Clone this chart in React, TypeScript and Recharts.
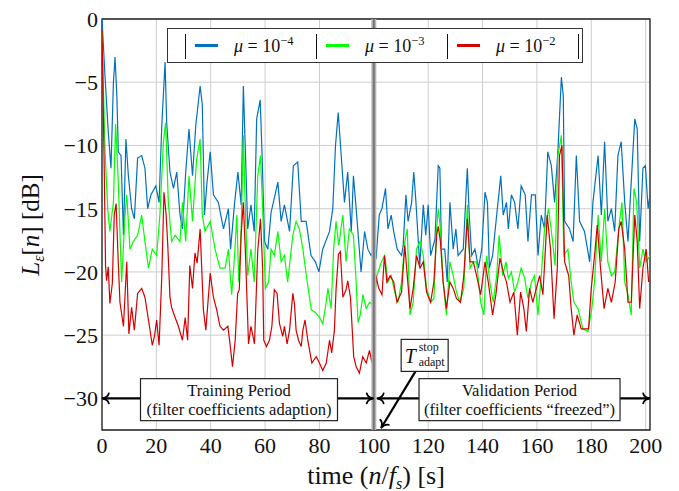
import {
  CartesianGrid,
  Legend,
  Line,
  LineChart,
  ReferenceArea,
  ReferenceDot,
  ReferenceLine,
  XAxis,
  YAxis,
} from "recharts";

// time axis in seconds, error level in dB
const xTicks = [0, 20, 40, 60, 80, 100, 120, 140, 160, 180, 200];
const yTicks = [-30, -25, -20, -15, -10, -5, 0];

// mu = 1e-4 (blue)
const mu4Points: [number, number][] = [
  [0, 0], [1.1, -4.5], [2.3, -8.9], [3.3, -11.8], [4.2, -5], [4.8, -3], [5.5, -6.3], [6, -10.5],
  [7, -10.8], [7.9, -17.1], [8.8, -9.5], [9.7, -12.4], [10.9, -15], [11.9, -15.8], [13.1, -11],
  [14.6, -10.8], [15.8, -11.8], [16.8, -15], [18, -13.9], [19.8, -13.2], [21, -14.5], [22, -8.4],
  [23.2, -3.4], [23.8, -8.2], [25, -12.1], [26.3, -13.4], [27.5, -12.1], [28.7, -15.5], [29.6, -16.6],
  [30.8, -12.1], [32, -8.7], [33.3, -12.4], [34.5, -8.4], [36.1, -5.3], [36.9, -6.8], [37.7, -15.5],
  [38.6, -13], [39.8, -10.5], [41, -13.9], [42.8, -14.5], [44.7, -16.6], [46.5, -15], [47.3, -18.2],
  [48.8, -14.5], [50, -12.1], [51.2, -14.7], [52, -5.3], [52.8, -10.8], [53.6, -16.6], [54.8, -14.7],
  [56, -16.8], [56.9, -7.9], [58.2, -6.4], [58.9, -10.8], [59.8, -17.6], [61, -18.2], [62.2, -15.3],
  [64.7, -12.9], [65.9, -16], [67.1, -14.7], [69, -16.8], [70.4, -11.6], [72, -11.3], [73.3, -16],
  [75.1, -16], [76.9, -18.7], [78.5, -19.2], [79.8, -20], [81.2, -18.2], [83.7, -16.8], [84.9, -15],
  [85.9, -10], [86.9, -7.4], [88, -10.8], [89.2, -14.5], [90.4, -12.1], [91.7, -16.8], [92.5, -12.4],
  [93.5, -15], [95.3, -20], [96.6, -16.8], [97.8, -18.2], [99, -18.7], [100.2, -18.2], [100.8, -19],
  [102, -15.5], [103, -15], [104.3, -13.4], [105.2, -16.6], [106.4, -15.5], [107.3, -16.8],
  [108.6, -18.2], [110.2, -18.7], [110.8, -17.9], [111.8, -13.9], [112.6, -16], [113.9, -14.5],
  [114.7, -12.1], [115.5, -14.5], [116.9, -19.5], [118.2, -14.7], [119.1, -17.1], [120, -14.7],
  [120.9, -18.7], [122.5, -17.4], [123.7, -11.6], [124.3, -11.8], [124.9, -18.2], [126.1, -18.2],
  [127, -20.8], [128, -14.5], [129.2, -18.2], [130.2, -16.6], [131, -18.7], [132.9, -18.2],
  [134.4, -11.8], [135.1, -15.5], [136, -18.7], [137.2, -18.2], [138.5, -19.7], [139.7, -18.2],
  [140.9, -13.7], [141.8, -14.5], [142.5, -19.7], [143.7, -18.7], [145.2, -15.5], [146.7, -12.4],
  [147.6, -15.5], [148.8, -14.5], [149.5, -16.6], [150.6, -13.9], [151.8, -14.5], [153, -16.6],
  [154.2, -13.2], [155.7, -13.9], [156.7, -17.6], [158, -13.9], [159.4, -13.9], [160.4, -18.7],
  [161.6, -15.5], [162.8, -16.6], [164, -10.5], [165.3, -11.6], [166.5, -14.5], [167.7, -10.5],
  [169, -4.6], [169.7, -6.1], [170.2, -16], [172, -16.6], [173.3, -17.6], [174.5, -10.8], [175.7, -16],
  [177.5, -16.8], [179.4, -19.2], [180.6, -14.5], [182.5, -10.8], [183.7, -15.5], [184.9, -9.7],
  [186.1, -16], [187.4, -15], [188.6, -16.8], [189.8, -10.8], [191, -9.7], [192.3, -14.5],
  [193.5, -17.6], [194.7, -12.9], [196, -7.9], [196.9, -8.7], [197.8, -17.6], [199, -11.8],
  [199.9, -11.6], [200.9, -15], [201.6, -13.9],
];

// mu = 1e-3 (green)
const mu3Points: [number, number][] = [
  [0, -1], [1.1, -10.3], [2.1, -15], [2.9, -16.8], [4.2, -14.5], [5, -8.3], [6, -12.9], [7.2, -20.8],
  [8.5, -15.5], [9.1, -13.9], [10.3, -18.2], [11.5, -17.6], [13.1, -17.1], [14.6, -15.5], [15.8, -17.6],
  [17.1, -19.7], [18.5, -18.2], [20.1, -18.7], [21.3, -15.5], [22.6, -9.7], [23.4, -8.2], [24.4, -14.5],
  [25.6, -17.6], [26.9, -17.1], [28.7, -17.6], [29.6, -14.5], [30.8, -17.6], [32, -12.4], [33.3, -16],
  [34.8, -11.1], [36.1, -9.5], [36.9, -15.5], [37.9, -16.8], [39.8, -16], [41.6, -18.2], [43.4, -19.7],
  [45.3, -19.7], [46.5, -18.2], [47.7, -21.8], [48.8, -18.6], [49.6, -15.5], [50.3, -20.8], [51.2, -16.6],
  [52, -9.2], [52.8, -15.5], [53.6, -20.3], [54.8, -18.2], [56, -20.8], [57.3, -12.4], [58.3, -10.8],
  [59.1, -15], [60.1, -21.3], [61.3, -20.8], [62.2, -18.2], [63.4, -18.7], [64.7, -16.8], [65.9, -19.2],
  [67.1, -18.7], [68.3, -20.8], [70.2, -17.1], [71.4, -16], [72.6, -16.6], [73.9, -18.2], [75.3, -20.5],
  [77, -23], [78.5, -23.2], [80, -23.6], [81.2, -24.1], [82.5, -22.4], [83.1, -21.3], [84.3, -22.9],
  [85.2, -18.2], [86.1, -16], [87.1, -17.9], [88.6, -15.5], [89.8, -19.2], [91, -16.6], [92.5, -17.1],
  [93.5, -20.8], [94.2, -24], [95, -23.4], [96, -21.8], [97.2, -22.9], [98.4, -22.4], [99.9, -22.6],
  [101.1, -20.3], [102.8, -19.2], [104, -18.7], [105.2, -20.8], [106.4, -20.3], [107.7, -21.6],
  [108.9, -22.4], [110.2, -20.8], [111.4, -17.6], [112.3, -16.6], [113.3, -23.4], [114.5, -22.4],
  [115.7, -18.2], [117, -17.6], [118.2, -18.7], [119.4, -21.3], [120.9, -22.4], [122.1, -22.1],
  [123.1, -16.6], [123.7, -15], [124.5, -16.6], [125.5, -20.8], [126.7, -23.4], [128, -19.2],
  [129.2, -20.3], [130.4, -21.6], [131.7, -22.4], [133.1, -21.3], [134.4, -14.7], [135.4, -19.7],
  [136.6, -19.2], [137.8, -19.2], [139.3, -22.4], [140.5, -23.4], [141.5, -18.7], [142.7, -20.8],
  [143.9, -22.4], [145.2, -20.3], [146.1, -17.1], [147.4, -20.3], [148.6, -19.2], [149.5, -20.5],
  [150.6, -20], [151.8, -21.6], [153, -20.8], [154.2, -19.7], [155.5, -20.5], [156.7, -22.1],
  [158, -20.8], [159.1, -20.3], [160.4, -23.4], [161.6, -20.3], [162.8, -16.6], [164.3, -15],
  [165.5, -17.1], [166.7, -19.5], [167.7, -10.8], [169, -9.2], [169.9, -18.7], [171.4, -18.2],
  [172.6, -20.8], [173.6, -22.4], [175.1, -22.9], [176.9, -24.5], [178.8, -24.7], [180.2, -22.9],
  [181.2, -20.8], [182.5, -15.5], [183.7, -19.2], [184.9, -15], [186.1, -19.2], [187.4, -20.3],
  [188.6, -20], [190.4, -16], [191.3, -14.5], [192.3, -20.8], [193.5, -21.8], [194.7, -23.4],
  [195.7, -13.4], [196.7, -14.5], [197.8, -19.7], [199, -18.2], [200.2, -19.2], [201.6, -18.7],
];

// mu = 1e-2 (red)
const mu2Points: [number, number][] = [
  [0, -0.8], [0.9, -12.9], [1.3, -19.5], [1.7, -20.7], [2.3, -19.6], [2.9, -22.5], [3.8, -20.9],
  [4.5, -15.5], [5.2, -14.6], [5.8, -18.2], [6.6, -22.4], [7.9, -24.3], [9.1, -19.2], [9.9, -24.9],
  [10.9, -22.8], [11.9, -24.6], [13.1, -21.7], [14.6, -21.3], [15.8, -22], [17.1, -23.8], [18.5, -25.8],
  [19.3, -25.1], [20.1, -23.8], [21, -25.8], [22, -20.3], [22.8, -13.7], [23.6, -15.5], [24.2, -17.9],
  [25, -22], [25.6, -22.8], [26.9, -23.6], [28.1, -24.3], [29.6, -25.4], [30.6, -23.6], [31.5, -25.4],
  [32.3, -19.5], [33.3, -21.3], [34.2, -18.5], [35, -19.3], [36.1, -16.6], [37.3, -23], [38.2, -24.6],
  [39.8, -20.1], [41, -22], [42.2, -23], [43.4, -24.3], [44.7, -24.6], [46.3, -24.3], [47.1, -25.7],
  [48, -27.5], [49, -25.4], [49.9, -21.7], [50.5, -21.4], [51.2, -17], [52, -14.5], [52.8, -18.7],
  [53.9, -25.7], [54.8, -24.3], [56.1, -25.7], [57.3, -18.3], [58.3, -15.8], [59.1, -19.7],
  [59.5, -25.4], [60.5, -25.9], [61.6, -25.4], [62.5, -24.3], [63.4, -21.4], [64.4, -21.7],
  [65.3, -24.1], [66.5, -25.1], [67.1, -24.3], [68.1, -25.7], [69, -24.6], [70.2, -21.7], [70.8, -22.5],
  [71.4, -24.6], [72.3, -25.4], [73.3, -25.9], [73.9, -24.6], [74.7, -23.8], [75.7, -25.4],
  [77.2, -27.2], [78.8, -26.7], [80, -27.2], [81.2, -27.8], [82.5, -27.2], [83.7, -25.4], [84.5, -26.4],
  [85.5, -24.6], [86.1, -21.4], [87, -18.6], [87.7, -18.4], [88.6, -22], [89.8, -21.4], [90.4, -20.7],
  [91.4, -22], [92.6, -26.7], [93.5, -27.5], [94.7, -28], [95.9, -26.7], [97.2, -27.2], [98.4, -26.2],
  [99.3, -27.2], [99.8, -25.9], [100.8, -20.3], [101.8, -21.3], [103, -21.8], [103.9, -18.7],
  [104.8, -20.8], [106, -20.3], [107.3, -20.8], [108.5, -22.4], [110.2, -21.6], [111.4, -17.9],
  [112.3, -20.3], [113.3, -22.9], [114.5, -21.3], [115.7, -18.7], [117, -19.7], [118.2, -19.2],
  [119.4, -21.6], [120.9, -22.4], [122.1, -20.8], [123.1, -17.1], [123.7, -16.4], [124.5, -17.6],
  [125.5, -20.8], [126.7, -22.9], [128, -20.8], [129.2, -21.3], [130.4, -22.1], [131.9, -22.4],
  [133.1, -20.3], [134.4, -15.8], [135.4, -19.2], [136.6, -19.2], [137.8, -20.3], [139.3, -21.8],
  [140.9, -19.2], [142.1, -20.8], [143.7, -23.4], [144.9, -21.8], [146.4, -18.9], [147.6, -20],
  [148.8, -20.8], [150.1, -22.4], [151.5, -21.6], [152.8, -25], [154, -21.6], [155.2, -22.9],
  [156.1, -24.7], [157.3, -21.3], [158.5, -22.4], [159.8, -21.3], [161, -20.3], [162.2, -21.8],
  [163.8, -15.5], [165, -18.2], [166.3, -23.7], [167.5, -19.7], [168.3, -10.8], [169.2, -10],
  [170.2, -19.2], [171.7, -20.3], [172.6, -22.9], [173.6, -25], [174.8, -23.4], [176.3, -24.5],
  [177.8, -24.5], [179, -24.5], [180, -21.3], [181.2, -18.7], [182.2, -16.3], [183.4, -19.7],
  [184.7, -22.9], [186.1, -21.3], [187.4, -22.4], [188.8, -20.8], [190.1, -16.6], [191, -16],
  [192.3, -18.2], [193.5, -22.4], [194.7, -22.4], [196, -15.5], [196.9, -17.6], [197.8, -22.9],
  [199, -19.7], [200.2, -18.2], [201.1, -20.8],
];

const series = [
  { key: "mu4", exponent: "−4", color: "#0072BD", points: mu4Points },
  { key: "mu3", exponent: "−3", color: "#00FF00", points: mu3Points },
  { key: "mu2", exponent: "−2", color: "#D40000", points: mu2Points },
];

const SERIF = "Liberation Serif, Times New Roman, DejaVu Serif, serif";
const X_MAX = 201.6;
const ADAPT_STOP = 100;

const toRows = (pts: [number, number][]) => pts.map(([t, v]) => ({ t, v }));
const fmtTick = (v: number) => (v < 0 ? `−${Math.abs(v)}` : String(v));

// LaTeX-ish "to" arrow tip, pointing along +x with tip at origin
const tipPath = "M -6 -5 C -5.4 -2.2 -1.8 -0.5 0.8 0 C -1.8 0.5 -5.4 2.2 -6 5";

function arrowShape(both: boolean) {
  return (p: any) => {
    const { x1, y1, x2, y2 } = p;
    const ang = (Math.atan2(y2 - y1, x2 - x1) * 180) / Math.PI;
    return (
      <g>
        <line x1={x1} y1={y1} x2={x2} y2={y2} stroke="#000" strokeWidth={2.2} />
        <path d={tipPath} transform={`translate(${x2},${y2}) rotate(${ang})`} fill="none" stroke="#000" strokeWidth={1.8} strokeLinecap="round" />
        {both && (
          <path d={tipPath} transform={`translate(${x1},${y1}) rotate(${ang + 180})`} fill="none" stroke="#000" strokeWidth={1.8} strokeLinecap="round" />
        )}
      </g>
    );
  };
}

function periodBox(line1: string, line2: string, w: number) {
  return (p: any) => (
    <g>
      <rect x={p.cx - w / 2} y={p.cy - 21} width={w} height={42} fill="#fff" stroke="#222" strokeWidth={1.2} />
      <text x={p.cx} y={p.cy - 4} textAnchor="middle" fontFamily={SERIF} fontSize={16.5} fill="#111">
        {line1}
      </text>
      <text x={p.cx} y={p.cy + 15} textAnchor="middle" fontFamily={SERIF} fontSize={16.5} fill="#111">
        {line2}
      </text>
    </g>
  );
}

const stopBox = (p: any) => (
  <g>
    <rect x={p.cx - 23.5} y={p.cy - 16} width={47} height={32} fill="#fff" stroke="#222" strokeWidth={1.2} />
    <text x={p.cx - 20} y={p.cy + 8} fontFamily={SERIF} fontSize={20} fontStyle="italic" fill="#111">T</text>
    <text x={p.cx - 6} y={p.cy - 4} fontFamily={SERIF} fontSize={12} fill="#111">stop</text>
    <text x={p.cx - 6} y={p.cy + 11} fontFamily={SERIF} fontSize={12} fill="#111">adapt</text>
  </g>
);

function LegendBox() {
  const bar = (left: number) => (
    <div style={{ position: "absolute", left, top: 5, width: 1.3, height: 25, background: "#111" }} />
  );
  return (
    <div
      style={{
        position: "relative",
        width: 416,
        height: 35,
        boxSizing: "border-box",
        border: "1.2px solid #333",
        background: "#fff",
        fontFamily: SERIF,
        fontSize: 18,
        color: "#111",
      }}
    >
      {series.map((s, i) => (
        <div key={s.key}>
          {bar(17 + 131 * i)}
          <div style={{ position: "absolute", left: 27 + 131 * i, top: 15, width: 23, height: 3, background: s.color }} />
          <div style={{ position: "absolute", left: 66 + 131 * i, top: 0, lineHeight: "35px", whiteSpace: "nowrap" }}>
            <i>μ</i> = 10
            <span style={{ fontSize: 12.5, position: "relative", top: -7 }}>{s.exponent}</span>
          </div>
        </div>
      ))}
      {bar(17 + 131 * 3)}
    </div>
  );
}

export default function App() {
  return (
    <div style={{ position: "absolute", left: 0, top: 0, width: 679, height: 491, background: "#fff" }}>
      <LineChart width={679} height={491} margin={{ top: 19, right: 29, left: 42, bottom: 31 }}>
        <CartesianGrid stroke="#cdcdcd" strokeWidth={1} />
        <XAxis
          dataKey="t"
          type="number"
          domain={[0, X_MAX]}
          ticks={xTicks}
          allowDataOverflow
          height={30}
          tickLine={false}
          axisLine={false}
          tickSize={5}
          tickMargin={2}
          tick={{ fontFamily: SERIF, fontSize: 22, fill: "#111" }}
        />
        <YAxis
          type="number"
          domain={[-32.5, 0]}
          ticks={yTicks}
          allowDataOverflow
          width={60}
          tickLine={false}
          axisLine={false}
          tickSize={4}
          tickMargin={0}
          tickFormatter={fmtTick}
          tick={{ fontFamily: SERIF, fontSize: 22, fill: "#111" }}
        />
        {series.map((s) => (
          <Line
            key={s.key}
            data={toRows(s.points)}
            dataKey="v"
            name={s.key}
            type="linear"
            stroke={s.color}
            strokeWidth={1.2}
            dot={false}
            activeDot={false}
            isAnimationActive={false}
          />
        ))}
        <ReferenceLine x={ADAPT_STOP} stroke="#b4b4b4" strokeWidth={5} />
        <ReferenceLine x={ADAPT_STOP} stroke="#777" strokeWidth={2} />
        <ReferenceArea x1={0} x2={X_MAX} y1={-32.5} y2={0} fill="none" stroke="#222" strokeWidth={1.3} />
        <ReferenceLine
          segment={[{ x: 0.3, y: -30 }, { x: 99.6, y: -30 }]}
          shape={arrowShape(true)}
        />
        <ReferenceLine
          segment={[{ x: 101.4, y: -30 }, { x: 201.3, y: -30 }]}
          shape={arrowShape(true)}
        />
        <ReferenceLine
          segment={[{ x: 115.5, y: -27.8 }, { x: 102.8, y: -32.3 }]}
          shape={arrowShape(false)}
        />
        <ReferenceDot x={50.4} y={-30.1} r={0} shape={periodBox("Training Period", "(filter coefficients adaption)", 197)} />
        <ReferenceDot x={153.6} y={-30.1} r={0} shape={periodBox("Validation Period", "(filter coefficients “freezed”)", 201)} />
        <ReferenceDot x={118.7} y={-26.6} r={0} shape={stopBox} />
        <text x={39} y={225} transform="rotate(-90 39 225)" textAnchor="middle" fontFamily={SERIF} fontSize={25} fill="#111">
          <tspan fontStyle="italic">L</tspan>
          <tspan fontSize={16} fontStyle="italic" dy={5}>ε</tspan>
          <tspan dy={-5}>[</tspan>
          <tspan fontStyle="italic">n</tspan>
          <tspan>] [dB]</tspan>
        </text>
        <text x={376} y={484} textAnchor="middle" fontFamily={SERIF} fontSize={26} fill="#111">
          <tspan>time (</tspan>
          <tspan fontStyle="italic">n</tspan>
          <tspan>/</tspan>
          <tspan fontStyle="italic">f</tspan>
          <tspan fontSize={16} fontStyle="italic" dy={5}>s</tspan>
          <tspan dy={-5}>) [s]</tspan>
        </text>
        <Legend
          layout="horizontal"
          verticalAlign="middle"
          align="center"
          content={() => <LegendBox />}
          wrapperStyle={{ top: 28, left: 167, width: 416, height: 35 }}
        />
      </LineChart>
    </div>
  );
}
